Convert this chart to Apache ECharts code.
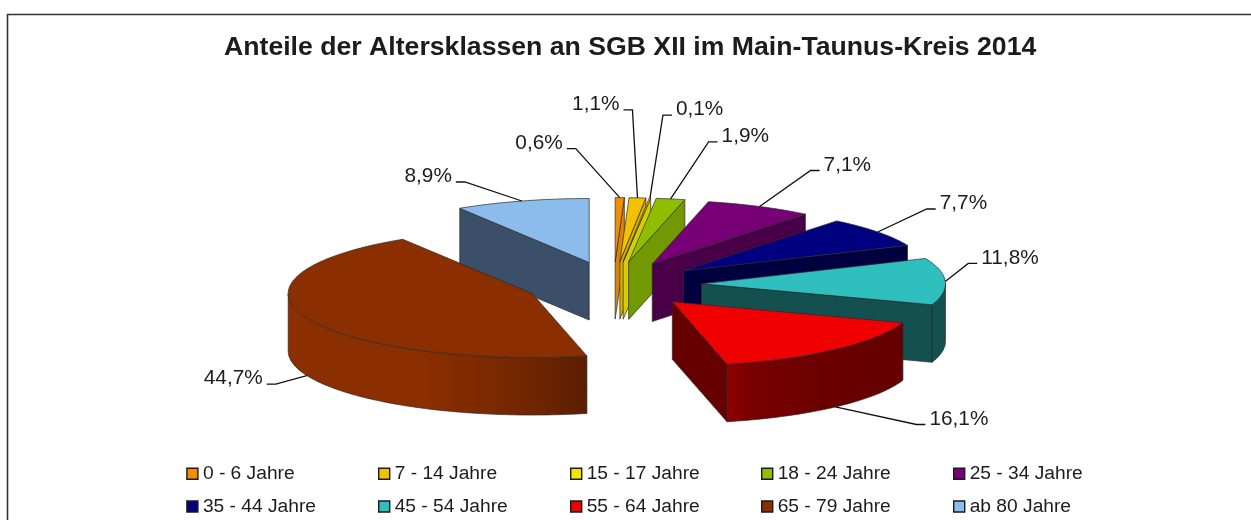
<!DOCTYPE html>
<html>
<head>
<meta charset="utf-8">
<style>html,body{margin:0;padding:0;background:#fff}#c{width:1251px;height:520px}</style>
<script src="https://cdn.jsdelivr.net/npm/echarts@6/dist/echarts.min.js"></script>
</head>
<body>
<div id="c"></div>
<script>
// ---- data ----
var chartTitle = 'Anteile der Altersklassen an SGB XII im Main-Taunus-Kreis 2014';
var categories = ['0 - 6 Jahre','7 - 14 Jahre','15 - 17 Jahre','18 - 24 Jahre','25 - 34 Jahre',
                  '35 - 44 Jahre','45 - 54 Jahre','55 - 64 Jahre','65 - 79 Jahre','ab 80 Jahre'];
var shares = [0.6, 1.1, 0.1, 1.9, 7.1, 7.7, 11.8, 16.1, 44.7, 8.9];

// ---- styles ----
var topColors  = ['#F28E00','#F2C200','#F0E600','#8FBE00','#770077','#000080','#2FBFBF','#F00000','#8B2E00','#8CBCEC'];
var sideColors = ['#DC8400','#D8AC00','#D8CC00','#739900','#4A0048','#000040','#145050','#660000','#5A1E00','#3B5068'];
var wallStops  = {
  6: [[0,'#145050'],[1,'#145050']],
  7: [[0,'#900000'],[0.15,'#780000'],[0.6,'#6A0000'],[1,'#640000']],
  8: [[0,'#8B2E00'],[0.45,'#8B2E00'],[0.8,'#722600'],[1,'#5A1E00']]
};
// leader elbow offset from its anchor on the slice, in pixels
var leaderElbow = [[-44,-49],[-5,-88],[13,-83],[38,-57],[51,-36],[49,-23],[23,-18],[81,17.5],[-31,8.5],[-57,-19]];

// ---- layout ----
var PX_X = 244, PX_Y = 64, CX = 613.5, CY = 284.7, SPAN = 1.4;
var EXPLODE = 0.3607, DEPTH = 57.5 / PX_Y, STUB = 9;
var textCol = '#1c1c1c', edge = '#2a2a2a';

var total = shares.reduce(function(a,b){return a+b;},0);
var cum = 0, slices = shares.map(function(v){
  var s = cum / total * 2 * Math.PI; cum += v;
  return {s:s, e:cum / total * 2 * Math.PI};
});
var order = slices.map(function(o,i){return i;}).sort(function(a,b){
  return Math.cos((slices[b].s+slices[b].e)/2) > Math.cos((slices[a].s+slices[a].e)/2) ? 1 : -1;
});

function makeRender(i){
  return function(params, api){
    var sl = slices[i], mid = (sl.s+sl.e)/2;
    var ax = EXPLODE*Math.sin(mid), ay = EXPLODE*Math.cos(mid);
    function P(th, r, h){ return api.coord([ax + r*Math.sin(th), ay + r*Math.cos(th) - (h||0)]); }
    function poly(points, fill){
      return {type:'polygon', shape:{points:points}, style:{fill:fill, stroke:edge, lineWidth:0.7, lineJoin:'round'}};
    }
    function arc(a,b,h){
      var n = Math.max(2, Math.ceil((b-a)/0.02)), out = [];
      for (var k=0;k<=n;k++) out.push(P(a+(b-a)*k/n,1,h));
      return out;
    }
    var kids = [];
    if (Math.sin(sl.s) < 0) kids.push(poly([P(0,0,0),P(sl.s,1,0),P(sl.s,1,DEPTH),P(0,0,DEPTH)], sideColors[i]));
    if (Math.sin(sl.e) > 0) kids.push(poly([P(0,0,0),P(sl.e,1,0),P(sl.e,1,DEPTH),P(0,0,DEPTH)], sideColors[i]));
    var wa = Math.max(sl.s, Math.PI/2), wb = Math.min(sl.e, 3*Math.PI/2);
    if (wb > wa) {
      var stops = (wallStops[i]||[[0,sideColors[i]],[1,sideColors[i]]]).map(function(p){return {offset:p[0],color:p[1]};});
      kids.push(poly(arc(wa,wb,0).concat(arc(wa,wb,DEPTH).reverse()),
        {type:'linear',x:0,y:0,x2:1,y2:0,colorStops:stops}));
    }
    kids.push(poly([P(0,0,0)].concat(arc(sl.s,sl.e,0)), topColors[i]));

    // leader + label
    var anchor = P(mid,1, Math.cos(mid) < 0 ? DEPTH : 0);
    var off = leaderElbow[i], dir = off[0] >= 0 ? 1 : -1;
    if (i === 1) dir = -1;
    var elbow = [anchor[0]+off[0], anchor[1]+off[1]], tip = [elbow[0]+dir*STUB, elbow[1]];
    kids.push({type:'polyline', shape:{points:[anchor,elbow,tip]}, style:{fill:null, stroke:'#111', lineWidth:1.3}});
    kids.push({type:'text', x:tip[0]+dir*4, y:tip[1]-5.5, style:{
      text: api.value(0).toFixed(1).replace('.',',')+'%',
      font:'20.8px "Liberation Sans", Arial, sans-serif', fill:textCol,
      align: dir>0?'left':'right', verticalAlign:'middle'}});
    return {type:'group', children:kids};
  };
}

var legendLeft = [186.2, 378, 570, 761, 953], legendTop = [464.3, 497];
var series = categories.map(function(name,i){
  return {type:'custom', name:name, coordinateSystem:'cartesian2d', clip:false, silent:true,
    z: 2+order.indexOf(i), itemStyle:{color:topColors[i]},
    encode:{x:0,y:0}, data:[[shares[i]]], renderItem:makeRender(i), animation:false};
});
var legends = categories.map(function(name,i){
  return {data:[name], left:legendLeft[i%5], top:legendTop[Math.floor(i/5)], padding:0,
    icon:'rect', itemWidth:11, itemHeight:11, selectedMode:false,
    itemStyle:{borderColor:'#1a1a1a', borderWidth:1.4},
    textStyle:{fontFamily:'"Liberation Sans", Arial, sans-serif', fontSize:19.2, color:textCol}};
});

var chart = echarts.init(document.getElementById('c'), null, {renderer:'canvas'});
chart.setOption({
  animation:false, backgroundColor:'#fff',
  title:{text:chartTitle, left:224, top:34.5, padding:0,
    textStyle:{fontFamily:'"Liberation Sans", Arial, sans-serif', fontWeight:'bold', fontSize:26.65, color:textCol}},
  legend:legends,
  grid:{left:CX-SPAN*PX_X, top:CY-SPAN*PX_Y, width:2*SPAN*PX_X, height:2*SPAN*PX_Y},
  xAxis:{type:'value', min:-SPAN, max:SPAN, show:false},
  yAxis:{type:'value', min:-SPAN, max:SPAN, show:false},
  graphic:[{type:'polyline', shape:{points:[[7.5,520],[7.5,14.5],[1251,14.5]]},
    style:{fill:null, stroke:'#333', lineWidth:1.6}, silent:true, z:1}],
  series:series
});
</script>
</body>
</html>
